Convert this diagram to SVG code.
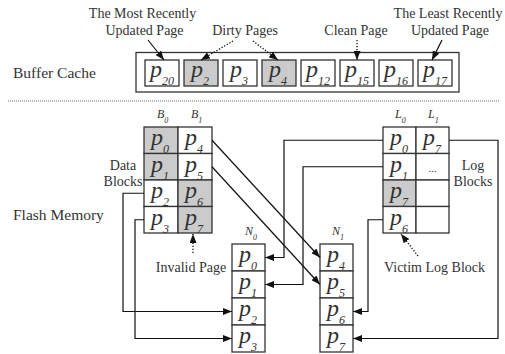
<svg xmlns="http://www.w3.org/2000/svg" width="505" height="354" viewBox="0 0 505 354">
<defs>
<style>
.lbl{font-family:"Liberation Serif","Times New Roman",serif;font-size:14px;fill:#333}
.big{font-size:15.5px}
.mid{text-anchor:middle}
.p{font-family:"Liberation Serif","Times New Roman",serif;font-style:italic;font-size:24px;fill:#333}
.s{font-size:12px}
.cap{font-family:"Liberation Serif","Times New Roman",serif;font-style:italic;font-size:12px;fill:#333}
.cs{font-size:8px}
.cell{fill:#fff;stroke:#333;stroke-width:1.3}
.g{fill:#cbcbcb}
.box{fill:none;stroke:#333;stroke-width:1.3}
.con{fill:none;stroke:#111;stroke-width:1.2}
.dot{fill:none;stroke:#111;stroke-width:1.3;stroke-dasharray:1.3 1.7}
</style>
<marker id="ah" viewBox="0 0 9 7" refX="9" refY="3.5" markerWidth="9" markerHeight="7" markerUnits="userSpaceOnUse" orient="auto">
<path d="M0,0 L9,3.5 L0,7 z" fill="#111"/>
</marker>
</defs>
<rect width="505" height="354" fill="#fff"/>

<g id="labels-top">
<text class="lbl mid" x="142.5" y="18">The Most Recently</text>
<text class="lbl mid" x="144.5" y="35">Updated Page</text>
<text class="lbl mid" x="245" y="35">Dirty Pages</text>
<text class="lbl mid" x="356" y="35">Clean Page</text>
<text class="lbl mid" x="448" y="18">The Least Recently</text>
<text class="lbl mid" x="450" y="35">Updated Page</text>
<text class="lbl big" x="13" y="78">Buffer Cache</text>
<text class="lbl big" x="13" y="220">Flash Memory</text>
</g>

<line x1="8" y1="101" x2="500" y2="101" stroke="#777" stroke-width="1" stroke-dasharray="1 1"/>

<g id="buffer-cache">
<rect class="box" x="136" y="52.5" width="323" height="39.5"/>
<rect class="cell" x="145" y="60" width="34" height="26"/>
<rect class="cell g" x="184" y="60" width="34" height="26"/>
<rect class="cell" x="223" y="60" width="34" height="26"/>
<rect class="cell g" x="262" y="60" width="34" height="26"/>
<rect class="cell" x="301" y="60" width="34" height="26"/>
<rect class="cell" x="340" y="60" width="34" height="26"/>
<rect class="cell" x="379" y="60" width="34" height="26"/>
<rect class="cell" x="418" y="60" width="34" height="26"/>
<text class="p" x="150" y="77">p<tspan class="s" dy="8">20</tspan></text>
<text class="p" x="191" y="77">p<tspan class="s" dy="8">2</tspan></text>
<text class="p" x="230" y="77">p<tspan class="s" dy="8">3</tspan></text>
<text class="p" x="269" y="77">p<tspan class="s" dy="8">4</tspan></text>
<text class="p" x="306" y="77">p<tspan class="s" dy="8">12</tspan></text>
<text class="p" x="345" y="77">p<tspan class="s" dy="8">15</tspan></text>
<text class="p" x="384" y="77">p<tspan class="s" dy="8">16</tspan></text>
<text class="p" x="423" y="77">p<tspan class="s" dy="8">17</tspan></text>
</g>

<g id="data-blocks">
<text class="cap" x="157" y="118">B<tspan class="cs" dy="5">0</tspan></text>
<text class="cap" x="191" y="118">B<tspan class="cs" dy="5">1</tspan></text>
<rect class="cell g" x="144" y="127" width="34" height="26.5"/>
<rect class="cell g" x="144" y="153.5" width="34" height="26.5"/>
<rect class="cell" x="144" y="180" width="34" height="26.5"/>
<rect class="cell" x="144" y="206.5" width="34" height="26.5"/>
<rect class="cell" x="178" y="127" width="34" height="26.5"/>
<rect class="cell" x="178" y="153.5" width="34" height="26.5"/>
<rect class="cell g" x="178" y="180" width="34" height="26.5"/>
<rect class="cell g" x="178" y="206.5" width="34" height="26.5"/>
<text class="p" x="151" y="145">p<tspan class="s" dy="8">0</tspan></text>
<text class="p" x="151" y="171.5">p<tspan class="s" dy="8">1</tspan></text>
<text class="p" x="151" y="198">p<tspan class="s" dy="8">2</tspan></text>
<text class="p" x="151" y="224.5">p<tspan class="s" dy="8">3</tspan></text>
<text class="p" x="185" y="145">p<tspan class="s" dy="8">4</tspan></text>
<text class="p" x="185" y="171.5">p<tspan class="s" dy="8">5</tspan></text>
<text class="p" x="185" y="198">p<tspan class="s" dy="8">6</tspan></text>
<text class="p" x="185" y="224.5">p<tspan class="s" dy="8">7</tspan></text>
<text class="lbl mid" x="123" y="170">Data</text>
<text class="lbl mid" x="123" y="186">Blocks</text>
</g>

<g id="log-blocks">
<text class="cap" x="395" y="118">L<tspan class="cs" dy="5">0</tspan></text>
<text class="cap" x="428" y="118">L<tspan class="cs" dy="5">1</tspan></text>
<rect class="cell" x="383" y="127" width="33" height="26.5"/>
<rect class="cell" x="383" y="153.5" width="33" height="26.5"/>
<rect class="cell g" x="383" y="180" width="33" height="26.5"/>
<rect class="cell" x="383" y="206.5" width="33" height="26.5"/>
<rect class="cell" x="416" y="127" width="33" height="26.5"/>
<rect class="cell" x="416" y="153.5" width="33" height="26.5"/>
<rect class="cell" x="416" y="180" width="33" height="26.5"/>
<rect class="cell" x="416" y="206.5" width="33" height="26.5"/>
<text class="p" x="390" y="145">p<tspan class="s" dy="8">0</tspan></text>
<text class="p" x="390" y="171.5">p<tspan class="s" dy="8">1</tspan></text>
<text class="p" x="390" y="198">p<tspan class="s" dy="8">7</tspan></text>
<text class="p" x="390" y="224.5">p<tspan class="s" dy="8">6</tspan></text>
<text class="p" x="423" y="145">p<tspan class="s" dy="8">7</tspan></text>
<text class="lbl mid" x="432.5" y="172" style="font-size:11px">...</text>
<text class="lbl mid" x="473" y="170">Log</text>
<text class="lbl mid" x="473" y="186">Blocks</text>
</g>

<g id="new-block-N0">
<text class="cap" x="245" y="235">N<tspan class="cs" dy="5">0</tspan></text>
<rect class="cell" x="232" y="244" width="33" height="27"/>
<rect class="cell" x="232" y="271" width="33" height="27"/>
<rect class="cell" x="232" y="298" width="33" height="27"/>
<rect class="cell" x="232" y="325" width="33" height="27"/>
<text class="p" x="239" y="262">p<tspan class="s" dy="8">0</tspan></text>
<text class="p" x="239" y="289">p<tspan class="s" dy="8">1</tspan></text>
<text class="p" x="239" y="316">p<tspan class="s" dy="8">2</tspan></text>
<text class="p" x="239" y="343">p<tspan class="s" dy="8">3</tspan></text>
</g>

<g id="new-block-N1">
<text class="cap" x="332" y="235">N<tspan class="cs" dy="5">1</tspan></text>
<rect class="cell" x="320" y="244" width="33" height="27"/>
<rect class="cell" x="320" y="271" width="33" height="27"/>
<rect class="cell" x="320" y="298" width="33" height="27"/>
<rect class="cell" x="320" y="325" width="33" height="27"/>
<text class="p" x="327" y="262">p<tspan class="s" dy="8">4</tspan></text>
<text class="p" x="327" y="289">p<tspan class="s" dy="8">5</tspan></text>
<text class="p" x="327" y="316">p<tspan class="s" dy="8">6</tspan></text>
<text class="p" x="327" y="343">p<tspan class="s" dy="8">7</tspan></text>
</g>

<g id="annotations">
<text class="lbl mid" x="191" y="272">Invalid Page</text>
<text class="lbl mid" x="434.5" y="272">Victim Log Block</text>
</g>

<g id="connectors">
<line class="con" x1="148" y1="40" x2="164" y2="60" marker-end="url(#ah)"/>
<line class="dot" x1="233" y1="41" x2="201" y2="60" marker-end="url(#ah)"/>
<line class="dot" x1="253" y1="41" x2="278" y2="60" marker-end="url(#ah)"/>
<line class="dot" x1="357" y1="40" x2="357" y2="60" marker-end="url(#ah)"/>
<line class="con" x1="442" y1="40" x2="432" y2="60" marker-end="url(#ah)"/>

<line class="dot" x1="193" y1="253" x2="193" y2="234" marker-end="url(#ah)"/>
<line class="dot" x1="418" y1="256" x2="401" y2="234" marker-end="url(#ah)"/>

<line class="con" x1="212" y1="140.25" x2="320" y2="257.5" marker-end="url(#ah)"/>
<line class="con" x1="212" y1="166.75" x2="320" y2="284.5" marker-end="url(#ah)"/>
<polyline class="con" points="383,140.25 284,140.25 284,257.5 265,257.5" marker-end="url(#ah)"/>
<polyline class="con" points="383,166.75 303,166.75 303,284.5 265,284.5" marker-end="url(#ah)"/>
<polyline class="con" points="144,193.25 123,193.25 123,311.5 232,311.5" marker-end="url(#ah)"/>
<polyline class="con" points="144,219.75 135,219.75 135,338.5 232,338.5" marker-end="url(#ah)"/>
<polyline class="con" points="383,219.75 368,219.75 368,311.5 353,311.5" marker-end="url(#ah)"/>
<polyline class="con" points="449,140.25 498,140.25 498,338.5 353,338.5" marker-end="url(#ah)"/>
</g>
</svg>
